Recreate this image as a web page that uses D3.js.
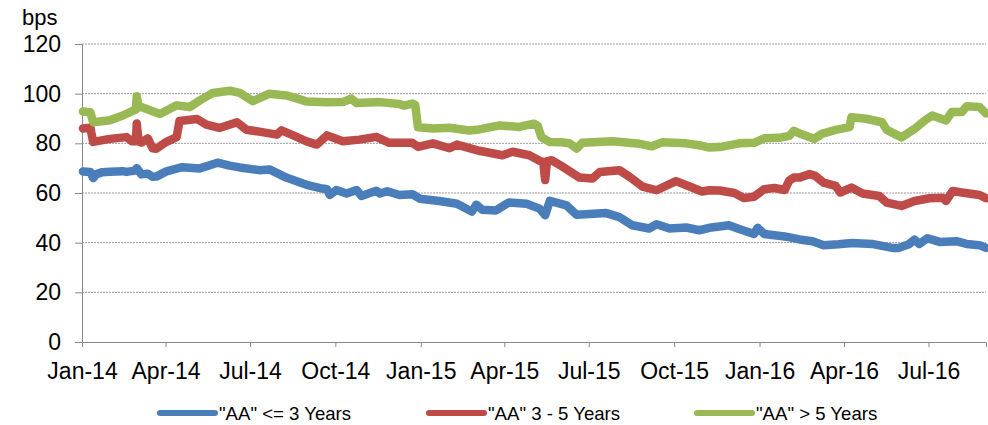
<!DOCTYPE html>
<html>
<head>
<meta charset="utf-8">
<script src="https://cdn.jsdelivr.net/npm/d3@7"></script>
<style>
  body { margin: 0; background: #fff; }
  svg { display: block; font-family: "Liberation Sans", Arial, sans-serif; }
</style>
</head>
<body>
<svg width="988" height="425"></svg>
<script>
const width = 988;
const height = 425;

// "AA" <= 3 Years
const aaShort = [
  ["2014-01-02", 68.7], ["2014-01-10", 68.5], ["2014-01-13", 66.0], ["2014-01-16", 67.5],
  ["2014-01-23", 68.4], ["2014-01-31", 68.6], ["2014-02-14", 68.8], ["2014-02-18", 68.5],
  ["2014-02-27", 69.0], ["2014-03-01", 70.0], ["2014-03-06", 67.5], ["2014-03-13", 67.8],
  ["2014-03-18", 66.5], ["2014-03-22", 66.6], ["2014-04-02", 68.7], ["2014-04-19", 70.4],
  ["2014-05-08", 69.9], ["2014-05-27", 72.2], ["2014-06-09", 71.0], ["2014-06-20", 70.3],
  ["2014-07-11", 69.2], ["2014-07-22", 69.5], ["2014-08-09", 66.2], ["2014-08-31", 63.3],
  ["2014-09-17", 61.8], ["2014-09-22", 61.5], ["2014-09-25", 59.2], ["2014-10-02", 61.2],
  ["2014-10-13", 59.8], ["2014-10-24", 61.2], ["2014-10-29", 58.8], ["2014-11-14", 60.9],
  ["2014-11-18", 59.8], ["2014-11-26", 60.7], ["2014-12-09", 59.2], ["2014-12-23", 59.5],
  ["2014-12-31", 57.7], ["2015-01-21", 56.8], ["2015-02-09", 55.7], ["2015-02-25", 52.5],
  ["2015-03-02", 55.3], ["2015-03-08", 53.3], ["2015-03-23", 53.0], ["2015-04-06", 56.2],
  ["2015-04-25", 55.7], ["2015-05-09", 53.7], ["2015-05-15", 51.0], ["2015-05-20", 56.8],
  ["2015-06-07", 55.0], ["2015-06-18", 51.2], ["2015-07-20", 51.9], ["2015-08-03", 50.3],
  ["2015-08-17", 47.0], ["2015-09-04", 45.7], ["2015-09-12", 47.4], ["2015-09-26", 45.7],
  ["2015-10-14", 46.1], ["2015-10-28", 45.0], ["2015-11-08", 46.0], ["2015-11-19", 46.5],
  ["2015-11-29", 47.0], ["2015-12-10", 45.5], ["2015-12-26", 43.5], ["2015-12-30", 46.0],
  ["2016-01-06", 43.5], ["2016-01-17", 43.0], ["2016-01-28", 42.5], ["2016-02-13", 41.3],
  ["2016-02-27", 40.6], ["2016-03-10", 39.0], ["2016-03-26", 39.4], ["2016-04-10", 39.9],
  ["2016-05-01", 39.5], ["2016-05-23", 37.9], ["2016-05-30", 37.9], ["2016-06-10", 39.4],
  ["2016-06-16", 41.2], ["2016-06-21", 39.5], ["2016-06-30", 41.8], ["2016-07-13", 40.3],
  ["2016-07-31", 40.6], ["2016-08-11", 39.5], ["2016-08-25", 39.0], ["2016-09-01", 37.9]
];

// "AA" 3 - 5 Years
const aaMid = [
  ["2014-01-02", 86.0], ["2014-01-10", 86.3], ["2014-01-13", 80.6], ["2014-01-31", 81.8],
  ["2014-02-18", 82.5], ["2014-02-24", 80.8], ["2014-02-28", 80.8], ["2014-03-01", 88.0],
  ["2014-03-03", 80.8], ["2014-03-06", 80.3], ["2014-03-13", 82.0], ["2014-03-18", 78.0],
  ["2014-03-22", 77.8], ["2014-04-02", 80.6], ["2014-04-13", 82.5], ["2014-04-16", 89.0],
  ["2014-05-05", 89.8], ["2014-05-15", 87.5], ["2014-05-29", 86.2], ["2014-06-17", 88.5],
  ["2014-06-27", 85.5], ["2014-07-11", 84.7], ["2014-07-30", 83.5], ["2014-08-04", 85.2],
  ["2014-08-16", 83.3], ["2014-08-31", 80.8], ["2014-09-11", 79.5], ["2014-09-22", 83.2],
  ["2014-10-09", 80.8], ["2014-10-27", 81.5], ["2014-11-14", 82.6], ["2014-11-28", 80.2],
  ["2014-12-23", 80.2], ["2014-12-29", 78.6], ["2015-01-14", 80.0], ["2015-02-01", 78.0],
  ["2015-02-09", 79.5], ["2015-03-05", 77.0], ["2015-03-30", 75.2], ["2015-04-10", 76.6],
  ["2015-04-28", 75.2], ["2015-05-09", 73.0], ["2015-05-13", 72.5], ["2015-05-15", 65.2],
  ["2015-05-17", 72.8], ["2015-05-22", 73.2], ["2015-06-01", 71.0], ["2015-06-21", 66.2],
  ["2015-07-05", 65.8], ["2015-07-13", 68.5], ["2015-08-03", 69.2], ["2015-08-14", 66.5],
  ["2015-08-28", 62.6], ["2015-09-12", 61.1], ["2015-10-03", 64.8], ["2015-10-17", 62.7],
  ["2015-10-31", 60.6], ["2015-11-08", 61.1], ["2015-11-19", 61.0], ["2015-12-05", 60.0],
  ["2015-12-15", 58.0], ["2015-12-26", 58.5], ["2016-01-06", 61.5], ["2016-01-17", 62.0],
  ["2016-01-28", 61.2], ["2016-02-02", 65.0], ["2016-02-07", 66.2], ["2016-02-13", 66.2],
  ["2016-02-24", 67.6], ["2016-03-01", 66.9], ["2016-03-10", 64.2], ["2016-03-23", 62.9],
  ["2016-03-28", 60.2], ["2016-04-09", 62.2], ["2016-04-21", 59.8], ["2016-05-09", 58.8],
  ["2016-05-17", 56.1], ["2016-06-02", 54.8], ["2016-06-16", 56.8], ["2016-07-02", 57.9],
  ["2016-07-16", 58.1], ["2016-07-20", 56.8], ["2016-07-27", 60.8], ["2016-08-06", 60.2],
  ["2016-08-25", 59.2], ["2016-09-01", 57.9]
];

// "AA" > 5 Years
const aaLong = [
  ["2014-01-02", 92.8], ["2014-01-10", 92.5], ["2014-01-13", 88.5], ["2014-01-31", 89.3],
  ["2014-02-14", 91.2], ["2014-02-24", 93.0], ["2014-02-28", 93.5], ["2014-03-01", 99.0],
  ["2014-03-03", 94.5], ["2014-03-06", 94.6], ["2014-03-26", 91.8], ["2014-04-13", 95.3],
  ["2014-04-27", 94.6], ["2014-05-08", 97.3], ["2014-05-22", 100.3], ["2014-06-09", 101.2],
  ["2014-06-20", 100.3], ["2014-07-04", 97.0], ["2014-07-22", 100.0], ["2014-08-09", 99.3],
  ["2014-08-23", 97.8], ["2014-08-31", 96.8], ["2014-09-22", 96.5], ["2014-10-09", 96.6],
  ["2014-10-18", 98.0], ["2014-10-24", 96.2], ["2014-11-18", 96.6], ["2014-12-09", 95.8],
  ["2014-12-14", 95.2], ["2014-12-23", 96.0], ["2014-12-26", 95.5], ["2014-12-29", 86.5],
  ["2015-01-14", 86.0], ["2015-02-01", 86.3], ["2015-02-22", 85.2], ["2015-03-05", 85.6],
  ["2015-03-27", 87.2], ["2015-04-17", 86.6], ["2015-05-03", 87.9], ["2015-05-07", 87.0],
  ["2015-05-11", 82.5], ["2015-05-20", 80.5], ["2015-06-01", 80.4], ["2015-06-10", 80.0],
  ["2015-06-18", 77.9], ["2015-06-24", 80.2], ["2015-07-27", 80.8], ["2015-08-25", 79.8],
  ["2015-09-07", 78.8], ["2015-09-18", 80.4], ["2015-10-14", 80.0], ["2015-10-31", 79.0],
  ["2015-11-08", 78.3], ["2015-11-19", 78.5], ["2015-12-10", 80.0], ["2015-12-26", 80.2],
  ["2016-01-06", 82.0], ["2016-01-22", 82.2], ["2016-02-02", 83.0], ["2016-02-07", 85.0],
  ["2016-02-13", 84.0], ["2016-02-29", 81.8], ["2016-03-08", 83.8], ["2016-03-23", 85.4],
  ["2016-04-07", 86.5], ["2016-04-09", 90.5], ["2016-04-25", 89.9], ["2016-05-12", 88.5],
  ["2016-05-17", 85.4], ["2016-06-02", 82.4], ["2016-06-16", 85.8], ["2016-06-27", 89.2],
  ["2016-07-05", 91.2], ["2016-07-20", 89.2], ["2016-07-26", 92.6], ["2016-08-06", 92.6],
  ["2016-08-11", 94.9], ["2016-08-25", 94.6], ["2016-09-01", 92.0]
];

const seriesNames = ['"AA" <= 3 Years', '"AA" 3 - 5 Years', '"AA" > 5 Years'];
const seriesColors = ["#4a7ebb", "#be4b48", "#98b954"];
const yTicks = [0, 20, 40, 60, 80, 100, 120];
const xTicks = ["2014-01-01", "2014-04-01", "2014-07-01", "2014-10-01",
                "2015-01-01", "2015-04-01", "2015-07-01", "2015-10-01",
                "2016-01-01", "2016-04-01", "2016-07-01"];

const parse = d3.timeParse("%Y-%m-%d");
const fmt = d3.timeFormat("%b-%y");

const svg = d3.select("svg");

const x = d3.scaleTime()
  .domain([parse("2014-01-01"), parse("2016-09-01")])
  .range([82, 986]);

const y = d3.scaleLinear()
  .domain([0, 120])
  .range([342, 44]);

// gridlines (dotted)
svg.append("g")
  .selectAll("line")
  .data(yTicks.filter(d => d > 0))
  .enter().append("line")
  .attr("x1", 82)
  .attr("x2", 986)
  .attr("y1", d => y(d))
  .attr("y2", d => y(d))
  .attr("stroke", "#9a9a9a")
  .attr("stroke-width", 1)
  .attr("stroke-dasharray", "2,1");

// y axis
const yAxis = svg.append("g")
  .attr("transform", "translate(82,0)")
  .call(d3.axisLeft(y).tickValues(yTicks).tickSize(7).tickPadding(14));
yAxis.select(".domain").attr("stroke", "#888");
yAxis.selectAll(".tick line").attr("stroke", "#888");
yAxis.selectAll("text")
  .attr("font-size", 23)
  .attr("font-family", "Liberation Sans, Arial, sans-serif")
  .attr("fill", "#000");

// x axis
const xAxis = svg.append("g")
  .attr("transform", "translate(0,342)")
  .call(d3.axisBottom(x).tickValues(xTicks.map(parse)).tickSize(5).tickFormat(fmt));
xAxis.select(".domain").attr("stroke", "#888");
xAxis.selectAll(".tick line").attr("stroke", "#888");
xAxis.selectAll("text")
  .attr("y", 37)
  .attr("dy", null)
  .attr("font-size", 23)
  .attr("font-family", "Liberation Sans, Arial, sans-serif")
  .attr("fill", "#000");

svg.append("text")
  .attr("x", 22)
  .attr("y", 25)
  .attr("font-size", 22)
  .text("bps");

// lines
const line = d3.line()
  .x(d => x(parse(d[0])))
  .y(d => y(d[1]));

const allSeries = [aaShort, aaMid, aaLong];

svg.append("g")
  .selectAll("path")
  .data(allSeries)
  .enter().append("path")
  .attr("d", line)
  .attr("fill", "none")
  .attr("stroke", (d, i) => seriesColors[i])
  .attr("stroke-width", 8.5)
  .attr("stroke-linejoin", "round")
  .attr("stroke-linecap", "round");

// legend
const legendX = [160, 429, 697];

const legend = svg.append("g")
  .selectAll("g")
  .data(seriesNames)
  .enter().append("g")
  .attr("transform", (d, i) => `translate(${legendX[i]},413)`);

legend.append("line")
  .attr("x1", 0)
  .attr("x2", 55)
  .attr("stroke", (d, i) => seriesColors[i])
  .attr("stroke-width", 6)
  .attr("stroke-linecap", "round");

legend.append("text")
  .attr("x", 59)
  .attr("y", 7)
  .attr("font-size", 18.6)
  .text(d => d);
</script>
</body>
</html>
